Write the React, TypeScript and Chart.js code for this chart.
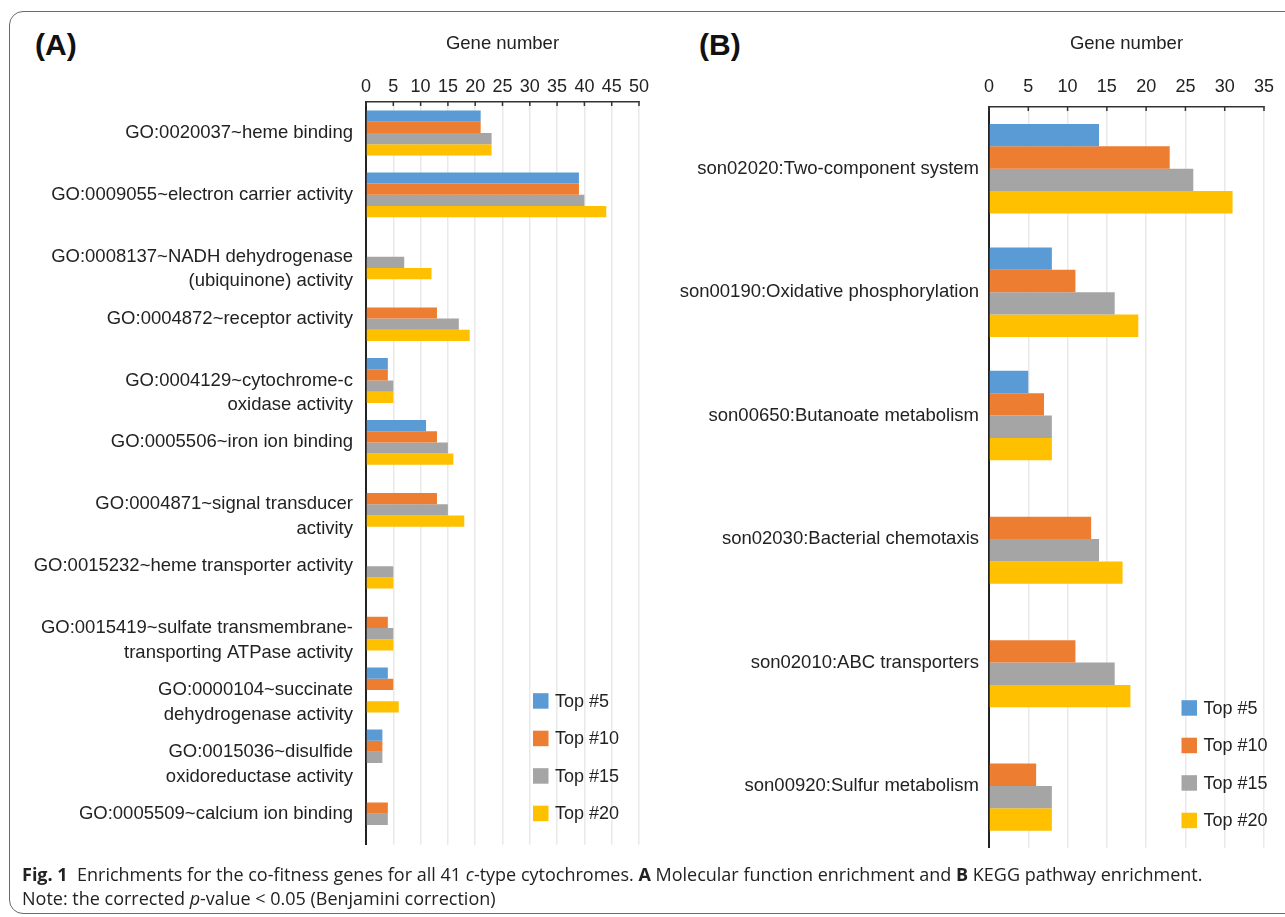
import React, { useEffect, useRef } from "react";
import { Chart, registerables } from "chart.js";

Chart.register(...registerables);

// ---------- data ----------
const seriesNames = ["Top #5", "Top #10", "Top #15", "Top #20"];
const seriesColors = ["#5B9BD5", "#ED7D31", "#A5A5A5", "#FFC000"];

const goCategories: (string | string[])[] = [
  "GO:0020037~heme binding",
  "GO:0009055~electron carrier activity",
  ["GO:0008137~NADH dehydrogenase", "(ubiquinone) activity"],
  "GO:0004872~receptor activity",
  ["GO:0004129~cytochrome-c", "oxidase activity"],
  "GO:0005506~iron ion binding",
  ["GO:0004871~signal transducer", "activity"],
  "GO:0015232~heme transporter activity",
  ["GO:0015419~sulfate transmembrane-", "transporting ATPase activity"],
  ["GO:0000104~succinate", "dehydrogenase activity"],
  ["GO:0015036~disulfide", "oxidoreductase activity"],
  "GO:0005509~calcium ion binding",
];
const goTop5 = [21, 39, null, null, 4, 11, null, null, null, 4, 3, null];
const goTop10 = [21, 39, null, 13, 4, 13, 13, null, 4, 5, 3, 4];
const goTop15 = [23, 40, 7, 17, 5, 15, 15, 5, 5, null, 3, 4];
const goTop20 = [23, 44, 12, 19, 5, 16, 18, 5, 5, 6, null, null];
const goAxisMax = 50;

const keggCategories: string[] = [
  "son02020:Two-component system",
  "son00190:Oxidative phosphorylation",
  "son00650:Butanoate metabolism",
  "son02030:Bacterial chemotaxis",
  "son02010:ABC transporters",
  "son00920:Sulfur metabolism",
];
const keggTop5 = [14, 8, 5, null, null, null];
const keggTop10 = [23, 11, 7, 13, 11, 6];
const keggTop15 = [26, 16, 8, 14, 16, 8];
const keggTop20 = [31, 19, 8, 17, 18, 8];
const keggAxisMax = 35;

const axisTitle = "Gene number";
const tickStep = 5;

// ---------- styling ----------
const FONT = "'Liberation Sans', Arial, Helvetica, sans-serif";
const TEXT = "#222222";

const cornerLegend = {
  id: "cornerLegend",
  afterDraw(chart: any, _args: any, opts: any) {
    const { ctx, chartArea } = chart;
    const x = chartArea.left + opts.offsetX;
    ctx.save();
    chart.data.datasets.forEach((ds: any, i: number) => {
      const cy = chartArea.bottom - opts.fromBottom + i * opts.gap;
      ctx.fillStyle = ds.backgroundColor;
      ctx.fillRect(x, cy - 7.5, 15.5, 15.5);
      ctx.fillStyle = TEXT;
      ctx.font = `18px ${FONT}`;
      ctx.textBaseline = "middle";
      ctx.textAlign = "left";
      ctx.fillText(ds.label, x + 22, cy + 1);
    });
    ctx.restore();
  },
};

const innerTicks = {
  id: "innerTicks",
  afterDatasetsDraw(chart: any) {
    const xs = chart.scales.x;
    const { ctx, chartArea } = chart;
    ctx.save();
    ctx.strokeStyle = "#333";
    ctx.lineWidth = 1.5;
    xs.ticks.forEach((t: any) => {
      const px = xs.getPixelForValue(t.value);
      ctx.beginPath();
      ctx.moveTo(px, chartArea.top - 1);
      ctx.lineTo(px, chartArea.top + 4);
      ctx.stroke();
    });
    ctx.restore();
  },
};

function buildConfig(
  categories: (string | string[])[],
  series: (number | null)[][],
  max: number,
  yWidth: number,
  xHeight: number,
  xPad: number,
  yPad: number,
  padding: any,
  legendOpts: any
): any {
  return {
    type: "bar",
    data: {
      labels: categories,
      datasets: series.map((values, i) => ({
        label: seriesNames[i],
        data: values,
        backgroundColor: seriesColors[i],
        borderWidth: 0,
        categoryPercentage: 0.725,
        barPercentage: 1.0,
      })),
    },
    options: {
      indexAxis: "y",
      responsive: false,
      animation: false,
      layout: { padding },
      plugins: {
        legend: { display: false },
        tooltip: { enabled: false },
        title: { display: false },
        cornerLegend: legendOpts,
      },
      scales: {
        x: {
          position: "top",
          min: 0,
          max,
          ticks: {
            stepSize: tickStep,
            color: TEXT,
            font: { family: FONT, size: 18 },
            padding: xPad,
          },
          grid: { color: "#e9e9e9", lineWidth: 1.5, drawTicks: false },
          border: { display: true, color: "#333", width: 1.5 },
          title: {
            display: true,
            text: axisTitle,
            color: TEXT,
            font: { family: FONT, size: 18.5 },
            padding: { top: 33, bottom: 0 },
          },
          afterFit: (s: any) => {
            s.height = xHeight;
          },
        },
        y: {
          ticks: {
            color: TEXT,
            font: { family: FONT, size: 18.5, lineHeight: 1.33 },
            padding: yPad,
            autoSkip: false,
            callback: (_v: any, i: number) => {
              const l = categories[i];
              return Array.isArray(l) ? ["", ...l] : l;
            },
          },
          grid: { display: false, drawTicks: false },
          border: { display: true, color: "#222", width: 2 },
          afterFit: (s: any) => {
            s.width = yWidth;
          },
        },
      },
    },
    plugins: [cornerLegend, innerTicks],
  };
}

function Panel(props: { left: number; width: number; height: number; make: () => any }) {
  const ref = useRef<HTMLCanvasElement>(null);
  useEffect(() => {
    const chart = new Chart(ref.current as HTMLCanvasElement, props.make());
    return () => chart.destroy();
  }, []);
  return (
    <canvas
      ref={ref}
      width={props.width}
      height={props.height}
      style={{ position: "absolute", left: props.left, top: 0, width: props.width, height: props.height }}
    />
  );
}

export default function App() {
  const panelLabel: React.CSSProperties = {
    position: "absolute",
    top: 28,
    fontFamily: FONT,
    fontWeight: "bold",
    fontSize: 30,
    lineHeight: "34px",
    color: "#111",
  };
  const caption: React.CSSProperties = {
    position: "absolute",
    left: 22,
    top: 862,
    fontFamily: "'Open Sans', 'Noto Sans', sans-serif",
    fontSize: 18,
    lineHeight: "24px",
    color: "#222",
    whiteSpace: "nowrap",
  };
  return (
    <div style={{ position: "absolute", left: 0, top: 0, width: 1285, height: 917, overflow: "hidden", background: "#fff" }}>
      <div
        style={{
          position: "absolute",
          left: 9,
          top: 11,
          width: 1300,
          height: 903,
          border: "1.5px solid #6a6a6a",
          borderRadius: 14,
          boxSizing: "border-box",
        }}
      />
      <div style={{ ...panelLabel, left: 35 }}>(A)</div>
      <div style={{ ...panelLabel, left: 699 }}>(B)</div>
      <Panel
        left={0}
        width={660}
        height={870}
        make={() =>
          buildConfig(
            goCategories,
            [goTop5, goTop10, goTop15, goTop20],
            goAxisMax,
            366,
            102,
            4,
            13,
            { left: 0, right: 21, top: 0, bottom: 19 },
            { offsetX: 167, fromBottom: 144, gap: 37.5 }
          )
        }
      />
      <Panel
        left={660}
        width={625}
        height={870}
        make={() =>
          buildConfig(
            keggCategories,
            [keggTop5, keggTop10, keggTop15, keggTop20],
            keggAxisMax,
            329,
            107,
            9,
            10,
            { left: 0, right: 21, top: 0, bottom: 22 },
            { offsetX: 192.5, fromBottom: 140, gap: 37.5 }
          )
        }
      />
      <div style={caption}>
        <div>
          <b>Fig. 1</b>&nbsp;&nbsp;Enrichments for the co-fitness genes for all 41 <i>c</i>-type cytochromes. <b>A</b> Molecular
          function enrichment and <b>B</b> KEGG pathway enrichment.
        </div>
        <div>
          Note: the corrected <i>p</i>-value &lt; 0.05 (Benjamini correction)
        </div>
      </div>
    </div>
  );
}
